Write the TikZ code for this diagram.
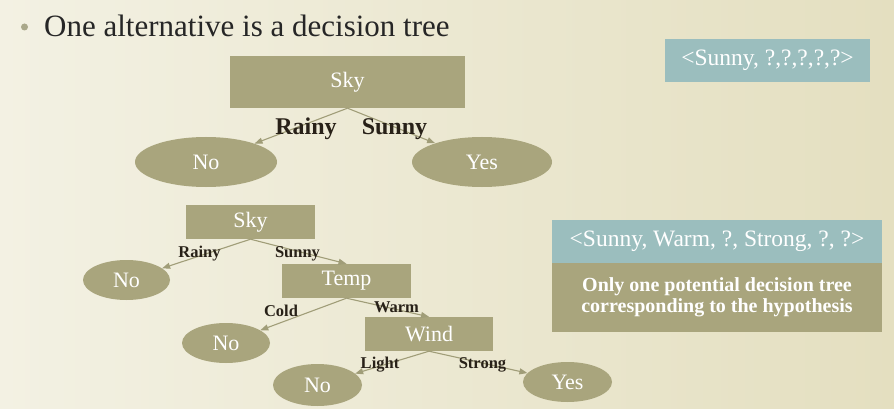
\documentclass[tikz,border=0pt]{standalone}
\usepackage{fontspec}
\setmainfont{Liberation Serif}
\usetikzlibrary{arrows.meta,shapes.geometric}
\definecolor{bgL}{RGB}{243,241,227}
\definecolor{bgR}{RGB}{228,223,192}
\definecolor{olive}{RGB}{169,165,125}
\definecolor{teal2}{RGB}{155,190,190}
\definecolor{arrowc}{RGB}{160,157,120}
\definecolor{labc}{RGB}{40,33,24}
\definecolor{titlec}{RGB}{38,38,38}
\definecolor{bulletc}{RGB}{170,168,138}
\tikzset{
  boxnode/.style={rectangle,fill=olive,text=white,inner sep=0pt,font=\fontsize{22}{26}\selectfont},
  ellnode/.style={ellipse,fill=olive,text=white,inner sep=0pt,font=\fontsize{22}{26}\selectfont},
  bigedge/.style={font=\bfseries\fontsize{24}{28}\selectfont,text=labc,anchor=base,inner sep=0pt},
  smalledge/.style={font=\bfseries\fontsize{16.5}{20}\selectfont,text=labc,anchor=base,inner sep=0pt},
  conn/.style={draw=arrowc,line width=1.1pt,-{Triangle[length=8pt,width=6pt]}},
  tealbox/.style={rectangle,fill=teal2,text=white,inner sep=0pt,font=\fontsize{23.5}{27}\selectfont},
}
\begin{document}
\begin{tikzpicture}[x=1pt,y=-1pt]
\useasboundingbox (0,0) rectangle (894,409);
\shade[left color=bgL,right color=bgR] (0,0) rectangle (894,409);
% title
\fill[bulletc] (24.5,27) circle (3.5);
\node[anchor=base west,inner sep=0pt,text=titlec,font=\fontsize{31}{35}\selectfont] (title) at (44,37) {One alternative is a decision tree};
% top tree
\node[boxnode,minimum width=235pt,minimum height=52pt] (sky1) at (347.5,82) {Sky};
\node[ellnode,minimum width=142pt,minimum height=50pt] (no1) at (206,162) {No};
\node[ellnode,minimum width=140pt,minimum height=50pt] (yes1) at (482,162) {Yes};
\draw[conn] (sky1.south) -- (no1);
\draw[conn] (sky1.south) -- (yes1);
\node[bigedge] (rainy1) at (306,135) {Rainy};
\node[bigedge] (sunny1) at (394.5,135) {Sunny};
% bottom tree
\node[boxnode,minimum width=129pt,minimum height=34pt] (sky2) at (250.5,222) {Sky};
\node[ellnode,minimum width=87pt,minimum height=40pt] (no2) at (126.5,280) {No};
\node[boxnode,minimum width=129pt,minimum height=34pt] (temp) at (346.5,281) {Temp};
\node[ellnode,minimum width=88pt,minimum height=40pt] (no3) at (226,343) {No};
\node[boxnode,minimum width=128pt,minimum height=34pt] (wind) at (429,334) {Wind};
\node[ellnode,minimum width=89pt,minimum height=42pt] (no4) at (317.5,385) {No};
\node[ellnode,minimum width=89pt,minimum height=40pt] (yes2) at (567.5,382) {Yes};
\draw[conn] (sky2.south) -- (no2);
\draw[conn] (sky2.south) -- (temp.north);
\draw[conn] (temp.south) -- (no3);
\draw[conn] (temp.south) -- (wind.north);
\draw[conn] (wind.south) -- (no4);
\draw[conn] (wind.south) -- (yes2);
\node[smalledge] (rainy2) at (199.5,257) {Rainy};
\node[smalledge] (sunny2) at (297.5,257) {Sunny};
\node[smalledge] (cold) at (281,316) {Cold};
\node[smalledge] (warm) at (396.5,312) {Warm};
\node[smalledge] (light) at (380,368) {Light};
\node[smalledge] (strong) at (482.5,368) {Strong};
% right boxes
\node[tealbox,minimum width=205pt,minimum height=43pt] (h1) at (767.5,60.5) {<Sunny, ?,?,?,?,?>};
\node[tealbox,minimum width=330pt,minimum height=43pt] (h2) at (717,241.5) {<Sunny, Warm, ?, Strong, ?, ?>};
\node[rectangle,fill=olive,text=white,inner sep=0pt,minimum width=330pt,minimum height=69pt,align=center,font=\bfseries\fontsize{20}{21.5}\selectfont] (note) at (717,297.5) {Only one potential decision tree\\corresponding to the hypothesis};
\end{tikzpicture}
\end{document}
